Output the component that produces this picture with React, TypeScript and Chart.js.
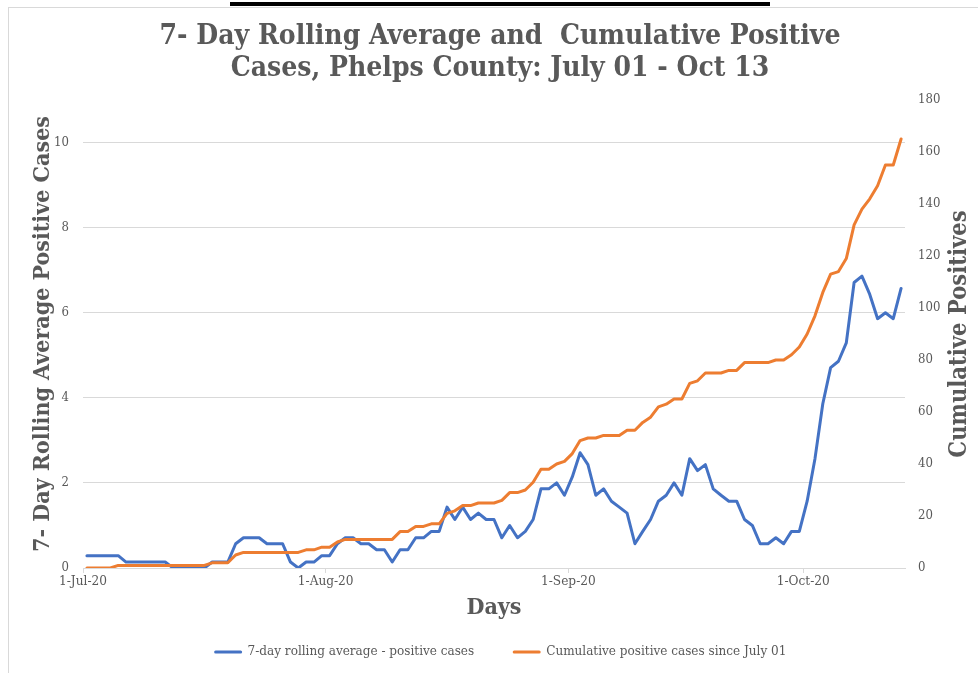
import { useEffect, useRef } from "react";
import { Chart, registerables } from "chart.js";

Chart.register(...registerables);

// ---- data (day 0 = 1-Jul-20 ... day 104 = 13-Oct-20) ----
const ROLLING_AVG = [
  0.29, 0.29, 0.29, 0.29, 0.29, 0.14, 0.14, 0.14, 0.14, 0.14,
  0.14, 0, 0, 0, 0, 0, 0.14, 0.14, 0.14, 0.57,
  0.71, 0.71, 0.71, 0.57, 0.57, 0.57, 0.14, 0, 0.14, 0.14,
  0.29, 0.29, 0.57, 0.71, 0.71, 0.57, 0.57, 0.43, 0.43, 0.14,
  0.43, 0.43, 0.71, 0.71, 0.86, 0.86, 1.43, 1.14, 1.43, 1.14,
  1.29, 1.14, 1.14, 0.71, 1, 0.71, 0.86, 1.14, 1.86, 1.86,
  2, 1.71, 2.14, 2.71, 2.43, 1.71, 1.86, 1.57, 1.43, 1.29,
  0.57, 0.86, 1.14, 1.57, 1.71, 2, 1.71, 2.57, 2.29, 2.43,
  1.86, 1.71, 1.57, 1.57, 1.14, 1, 0.57, 0.57, 0.71, 0.57,
  0.86, 0.86, 1.57, 2.57, 3.86, 4.71, 4.86, 5.29, 6.71, 6.86,
  6.43, 5.86, 6, 5.86, 6.57,
];

const CUMULATIVE = [
  0, 0, 0, 0, 1, 1, 1, 1, 1, 1,
  1, 1, 1, 1, 1, 1, 2, 2, 2, 5,
  6, 6, 6, 6, 6, 6, 6, 6, 7, 7,
  8, 8, 10, 11, 11, 11, 11, 11, 11, 11,
  14, 14, 16, 16, 17, 17, 21, 22, 24, 24,
  25, 25, 25, 26, 29, 29, 30, 33, 38, 38,
  40, 41, 44, 49, 50, 50, 51, 51, 51, 53,
  53, 56, 58, 62, 63, 65, 65, 71, 72, 75,
  75, 75, 76, 76, 79, 79, 79, 79, 80, 80,
  82, 85, 90, 97, 106, 113, 114, 119, 132, 138,
  142, 147, 155, 155, 165,
];

const MONTH_TICK_DAYS = [0, 31, 62, 92];
const MONTH_LABELS = ["1-Jul-20", "1-Aug-20", "1-Sep-20", "1-Oct-20"];
const LEFT_TICKS = [0, 2, 4, 6, 8, 10];
const LEFT_MAX = 11;
const RIGHT_MAX = 180;
const RIGHT_STEP = 20;

const SERIES_NAMES = [
  "7-day rolling average - positive cases",
  "Cumulative positive cases since July 01",
];
const TITLE_LINES = [
  "7- Day Rolling Average and  Cumulative Positive",
  "Cases, Phelps County: July 01 - Oct 13",
];
const LEFT_TITLE = "7- Day Rolling Average Positive Cases";
const RIGHT_TITLE = "Cumulative Positives";
const X_TITLE = "Days";

// ---- styles ----
const BLUE = "#4472C4";
const ORANGE = "#ED7D31";
const TEXT = "#595959";
const GRID = "#d9d9d9";
const SERIF = "'DejaVu Serif Condensed', 'DejaVu Serif', serif";

const decorPlugin = {
  id: "decor",
  afterDraw(chart: any) {
    const ctx: CanvasRenderingContext2D = chart.ctx;
    const area = chart.chartArea;
    ctx.save();
    ctx.fillStyle = TEXT;
    ctx.textAlign = "center";
    ctx.textBaseline = "middle";
    ctx.font = `bold 28px ${SERIF}`;
    TITLE_LINES.forEach((t, i) => ctx.fillText(t, 500, 37 + i * 32));

    // right axis title (reads bottom-to-top)
    ctx.save();
    ctx.translate(960, (area.top + area.bottom) / 2);
    ctx.rotate(-Math.PI / 2);
    ctx.font = `bold 23.5px ${SERIF}`;
    ctx.fillText(RIGHT_TITLE, 0, 0);
    ctx.restore();

    // legend
    ctx.font = `13.4px ${SERIF}`;
    const boxW = 25;
    const boxGap = 7;
    const itemGap = 40;
    const ds = chart.data.datasets;
    const widths = ds.map((d: any) => ctx.measureText(d.label).width);
    const total =
      widths.reduce((a: number, w: number) => a + boxW + boxGap + w, 0) +
      itemGap * (ds.length - 1);
    let x = 501 - total / 2;
    const y = 652;
    ds.forEach((d: any, i: number) => {
      ctx.strokeStyle = d.borderColor;
      ctx.lineWidth = 3;
      ctx.lineCap = "round";
      ctx.beginPath();
      ctx.moveTo(x, y);
      ctx.lineTo(x + boxW, y);
      ctx.stroke();
      ctx.textAlign = "left";
      ctx.fillStyle = TEXT;
      ctx.fillText(d.label, x + boxW + boxGap, y);
      x += boxW + boxGap + widths[i] + itemGap;
    });
    ctx.restore();
  },
};

export default function App() {
  const ref = useRef<HTMLCanvasElement>(null);

  useEffect(() => {
    const canvas = ref.current;
    if (!canvas) return;
    const chart = new Chart(canvas, {
      type: "line",
      data: {
        datasets: [
          {
            label: SERIES_NAMES[0],
            data: ROLLING_AVG.map((v, i) => ({ x: i, y: v })),
            yAxisID: "y",
            borderColor: BLUE,
            backgroundColor: BLUE,
            borderWidth: 3,
            pointRadius: 0,
            tension: 0,
            fill: false,
            borderJoinStyle: "round",
            borderCapStyle: "round",
            order: 1,
          },
          {
            label: SERIES_NAMES[1],
            data: CUMULATIVE.map((v, i) => ({ x: i, y: v })),
            yAxisID: "y1",
            borderColor: ORANGE,
            backgroundColor: ORANGE,
            borderWidth: 3,
            pointRadius: 0,
            tension: 0,
            fill: false,
            borderJoinStyle: "round",
            borderCapStyle: "round",
            order: 0,
          },
        ],
      },
      options: {
        responsive: false,
        animation: false,
        events: [],
        layout: { padding: { left: 8, right: 0, top: 100, bottom: 50 } },
        plugins: {
          legend: { display: false },
          title: { display: false },
          tooltip: { enabled: false },
        },
        scales: {
          x: {
            type: "linear",
            min: -0.5,
            max: 104.5,
            afterBuildTicks: (axis: any) => {
              axis.ticks = MONTH_TICK_DAYS.map((d) => ({ value: d - 0.5 }));
            },
            afterFit: (axis: any) => {
              axis.height = 55;
            },
            ticks: {
              autoSkip: false,
              maxRotation: 0,
              minRotation: 0,
              padding: 0,
              color: TEXT,
              font: { family: SERIF, size: 13.5 },
              callback: (_v: any, i: number) => MONTH_LABELS[i],
            },
            grid: {
              display: true,
              drawOnChartArea: false,
              drawTicks: true,
              tickLength: 5,
              color: GRID,
            },
            border: { display: true, color: GRID, width: 1 },
            title: {
              display: true,
              text: X_TITLE,
              color: TEXT,
              font: { family: SERIF, size: 23, weight: "bold", lineHeight: 1.2 },
              padding: { top: 0, bottom: 1 },
            },
          },
          y: {
            type: "linear",
            position: "left",
            min: 0,
            max: LEFT_MAX,
            afterBuildTicks: (axis: any) => {
              axis.ticks = LEFT_TICKS.map((v) => ({ value: v }));
            },
            afterFit: (axis: any) => {
              axis.width = 75;
            },
            ticks: {
              padding: 14,
              color: TEXT,
              font: { family: SERIF, size: 13 },
            },
            grid: { color: GRID, lineWidth: 1, drawTicks: false },
            border: { display: false },
            title: {
              display: true,
              text: LEFT_TITLE,
              color: TEXT,
              font: { family: SERIF, size: 23, weight: "bold", lineHeight: 1.2 },
              padding: { top: 21, bottom: 0 },
            },
          },
          y1: {
            type: "linear",
            position: "right",
            min: 0,
            max: RIGHT_MAX,
            afterFit: (axis: any) => {
              axis.width = 73;
            },
            ticks: {
              stepSize: RIGHT_STEP,
              padding: 13,
              color: TEXT,
              font: { family: SERIF, size: 13 },
            },
            grid: { display: false, drawTicks: false },
            border: { display: false },
          },
        },
      } as any,
      plugins: [decorPlugin],
    });
    return () => chart.destroy();
  }, []);

  return (
    <div
      style={{
        position: "absolute",
        left: 0,
        top: 0,
        width: 978,
        height: 673,
        background: "#fff",
        overflow: "hidden",
      }}
    >
      <div
        style={{
          position: "absolute",
          left: 230,
          top: 2,
          width: 540,
          height: 4,
          background: "#000",
        }}
      />
      <div
        style={{
          position: "absolute",
          left: 8,
          top: 7,
          right: 0,
          bottom: 0,
          borderLeft: `1px solid ${GRID}`,
          borderTop: `1px solid ${GRID}`,
        }}
      />
      <canvas
        ref={ref}
        width={978}
        height={673}
        style={{ position: "absolute", left: 0, top: 0, width: 978, height: 673 }}
      />
    </div>
  );
}
